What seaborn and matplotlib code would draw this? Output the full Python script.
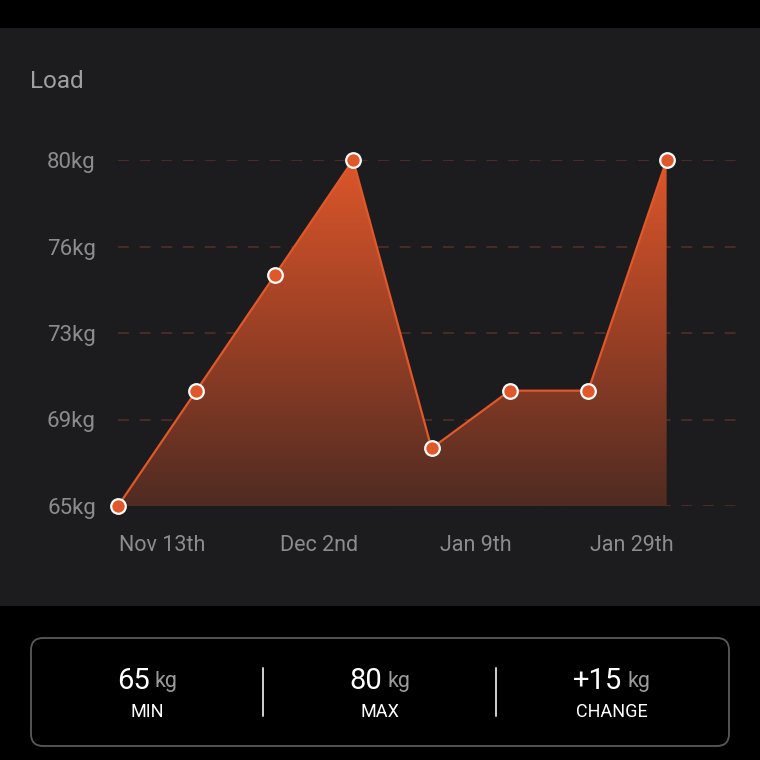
import numpy as np
import pandas as pd
import matplotlib.pyplot as plt
import seaborn as sns
from matplotlib.patches import Rectangle, FancyBboxPatch
from matplotlib.colors import LinearSegmentedColormap
import matplotlib.transforms as mtransforms

# données
session_idx = [0, 1, 2, 3, 4, 5, 6, 7]
load_kg = [65, 70, 75, 80, 67.5, 70, 70, 80]
date_ticks = [0, 2, 4, 6]
date_labels = ["Nov 13th", "Dec 2nd", "Jan 9th", "Jan 29th"]
y_ticks = [65, 68.75, 72.5, 76.25, 80]
y_labels = ["65kg", "69kg", "73kg", "76kg", "80kg"]
stat_values = ["65", "80", "+15"]
stat_names = ["MIN", "MAX", "CHANGE"]

df = pd.DataFrame({"session": session_idx, "load": load_kg})

sns.set_theme(style="dark")
plt.rcParams["font.family"] = ["Roboto", "DejaVu Sans"]

ORANGE = "#e0582a"
PANEL = "#1c1c1e"
GREY = "#8c8c8c"

fig = plt.figure(figsize=(7.6, 7.6), dpi=100, facecolor="black")
W = H = 760.0

# panneau gris foncé
fig.patches.append(Rectangle((0, (H - 606) / H), 1, (606 - 28) / H,
                             transform=fig.transFigure, facecolor=PANEL,
                             edgecolor="none", zorder=-5))

ax = fig.add_axes([118 / W, (H - 506) / H, 627 / W, 346 / H])
ax.set_zorder(2)
ax.patch.set_alpha(0)

# dégradé sous la courbe
grad_cmap = LinearSegmentedColormap.from_list("g", ["#4f2b22", "#9a4025", "#dc562a"])
grad = np.linspace(0, 1, 256).reshape(-1, 1)
img = ax.imshow(grad, extent=(min(session_idx), max(session_idx), 65, 80),
                origin="lower", aspect="auto", cmap=grad_cmap, zorder=1)
poly = ax.fill_between(df["session"], df["load"], 65, color="none", zorder=1)
img.set_clip_path(poly.get_paths()[0], transform=ax.transData)

sns.lineplot(data=df, x="session", y="load", ax=ax, color=ORANGE, linewidth=1.6,
             marker="o", markersize=10.5, markerfacecolor=ORANGE,
             markeredgecolor="white", markeredgewidth=1.6, zorder=3, clip_on=False)

ax.set_xlim(0, 8)
ax.set_ylim(65, 80)
for y in y_ticks:
    ax.axhline(y, color="#502c26", linewidth=1.3, linestyle=(0, (6, 6)), zorder=0.5)
ax.grid(False)
for s in ax.spines.values():
    s.set_visible(False)

ax.set_yticks(y_ticks)
ax.set_yticklabels(y_labels, color=GREY, fontsize=16)
ax.set_xticks(date_ticks)
ax.set_xticklabels(date_labels, color=GREY, fontsize=15.5)
ax.tick_params(axis="y", length=0, pad=16)
ax.tick_params(axis="x", length=0, pad=21)
offset = mtransforms.ScaledTranslation(0.44, 0, fig.dpi_scale_trans)
for lab in ax.get_xticklabels():
    lab.set_transform(lab.get_transform() + offset)
ax.set_xlabel("")
ax.set_ylabel("")

fig.text(30 / W, 1 - 81 / H, "Load", color="#a0a0a0", fontsize=17.5, va="center", ha="left")

# encadré des stats
box = FancyBboxPatch((31 / W, (H - 746) / H), 698 / W, 108 / H,
                     boxstyle="round,pad=0,rounding_size=0.016",
                     transform=fig.transFigure, facecolor="black",
                     edgecolor="#5a5a5a", linewidth=1.3)
fig.patches.append(box)
for xd in [263, 496]:
    fig.add_artist(plt.Line2D([xd / W, xd / W], [1 - 668 / H, 1 - 716 / H],
                              color="#d0d0d0", linewidth=1.4))

renderer = fig.canvas.get_renderer()
col_centers = [147, 380, 612]
for cx, val, name in zip(col_centers, stat_values, stat_names):
    t1 = fig.text(0, 1 - 681 / H, val, color="white", fontsize=21, va="center", ha="left")
    t2 = fig.text(0, 1 - 681 / H, "kg", color="#9a9a9a", fontsize=15.5, va="center", ha="left")
    w1 = t1.get_window_extent(renderer).width
    w2 = t2.get_window_extent(renderer).width
    gap = 5
    x0 = cx - (w1 + gap + w2) / 2
    t1.set_x(x0 / W)
    t2.set_x((x0 + w1 + gap) / W)
    fig.text(cx / W, 1 - 712 / H, name, color="white", fontsize=13, va="center", ha="center")

fig.savefig("out.png", dpi=100, facecolor="black")
